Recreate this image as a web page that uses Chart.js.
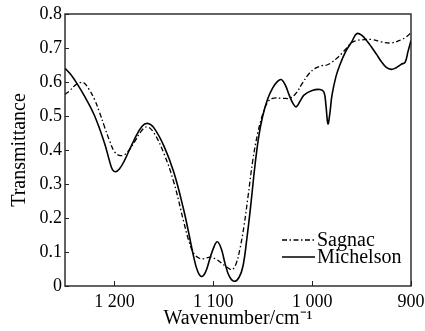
<!DOCTYPE html>
<html>
<head>
<meta charset="utf-8">
<script src="https://cdn.jsdelivr.net/npm/chart.js@4"></script>
<style>
html,body{margin:0;padding:0;background:#fff;}
#wrap{width:425px;height:331px;}
</style>
</head>
<body>
<div id="wrap"><canvas id="c" width="425" height="331"></canvas></div>
<script>
// Data
const michelsonX = [1250,1245,1240,1230,1220,1210,1205,1202,1199,1195,1190,1180,1172,1166,1160,1150,1140,1130,1125,1120,1116,1112,1108,1104,1100,1096,1092,1088,1084,1079,1074,1070,1066,1062,1058,1054,1050,1045,1040,1035,1031,1027,1023,1019,1016,1012,1008,1000,992,988,986,984,982,980,976,972,966,960,955,950,945,940,935,930,925,920,915,910,906,903,900];
const michelsonY = [0.640,0.625,0.605,0.557,0.500,0.420,0.368,0.342,0.336,0.344,0.368,0.430,0.470,0.478,0.465,0.412,0.335,0.225,0.158,0.088,0.045,0.028,0.040,0.075,0.110,0.130,0.110,0.065,0.030,0.014,0.025,0.058,0.140,0.240,0.350,0.440,0.500,0.550,0.582,0.602,0.607,0.590,0.560,0.535,0.527,0.545,0.562,0.575,0.578,0.570,0.530,0.477,0.510,0.560,0.615,0.650,0.690,0.718,0.742,0.738,0.722,0.703,0.682,0.660,0.643,0.637,0.642,0.652,0.658,0.690,0.722];
const sagnacX = [1250,1245,1240,1235,1231,1226,1220,1215,1210,1205,1200,1195,1190,1185,1180,1173,1167,1160,1150,1140,1130,1125,1120,1115,1110,1103,1098,1092,1086,1081,1077,1073,1069,1065,1060,1055,1050,1045,1040,1030,1022,1016,1010,1003,997,990,985,980,975,970,965,960,955,950,940,930,920,910,905,900];
const sagnacY = [0.563,0.575,0.590,0.598,0.598,0.580,0.548,0.510,0.468,0.428,0.395,0.384,0.386,0.400,0.422,0.455,0.468,0.450,0.390,0.306,0.190,0.135,0.097,0.083,0.080,0.085,0.080,0.068,0.055,0.048,0.065,0.110,0.175,0.260,0.370,0.450,0.505,0.540,0.552,0.552,0.553,0.568,0.596,0.625,0.640,0.648,0.650,0.658,0.670,0.684,0.700,0.716,0.722,0.724,0.725,0.718,0.715,0.724,0.732,0.745];
const xTickValues = [1200,1100,1000,900];
const xTickLabels = ['1 200','1 100','1 000','900'];
const yTickValues = [0,0.1,0.2,0.3,0.4,0.5,0.6,0.7,0.8];
const yTickLabels = ['0','0.1','0.2','0.3','0.4','0.5','0.6','0.7','0.8'];
const seriesNames = ['Sagnac','Michelson'];

const FONT = "'Liberation Serif', 'Times New Roman', serif";
const sagnacDash = [5,2.5,1.5,2.5];

const frameAndLegend = {
  id: 'frameAndLegend',
  afterDraw(chart) {
    const ctx = chart.ctx, a = chart.chartArea;
    const xs = chart.scales.x, ys = chart.scales.y;
    ctx.save();
    ctx.strokeStyle = '#222';
    ctx.lineWidth = 1.4;
    ctx.strokeRect(a.left, a.top, a.right - a.left, a.bottom - a.top);
    ctx.lineWidth = 1;
    ctx.beginPath();
    yTickValues.forEach(v => {
      const y = Math.round(ys.getPixelForValue(v)) + 0.5;
      ctx.moveTo(a.left, y); ctx.lineTo(a.left + 4, y);
    });
    xTickValues.forEach(v => {
      const x = Math.round(xs.getPixelForValue(v)) + 0.5;
      ctx.moveTo(x, a.bottom); ctx.lineTo(x, a.bottom - 5);
    });
    ctx.stroke();
    // legend
    const lx0 = a.right - 129, lx1 = a.right - 96, tx = a.right - 94;
    const rows = [a.bottom - 46, a.bottom - 29];
    ctx.font = "20px " + FONT;
    ctx.fillStyle = '#000';
    ctx.strokeStyle = '#000';
    ctx.textBaseline = 'middle';
    ctx.textAlign = 'left';
    rows.forEach((y, i) => {
      ctx.beginPath();
      ctx.lineWidth = i === 0 ? 1.3 : 1.6;
      ctx.setLineDash(i === 0 ? sagnacDash : []);
      ctx.moveTo(lx0, y); ctx.lineTo(lx1, y);
      ctx.stroke();
      ctx.setLineDash([]);
      ctx.fillText(seriesNames[i], tx, y + 1);
    });
    ctx.restore();
  }
};

new Chart(document.getElementById('c'), {
  type: 'line',
  data: {
    datasets: [
      {
        label: seriesNames[0],
        data: sagnacX.map((x, i) => ({x: x, y: sagnacY[i]})),
        borderColor: '#000', borderWidth: 1.3, borderDash: sagnacDash,
        pointRadius: 0, fill: false, tension: 0.4
      },
      {
        label: seriesNames[1],
        data: michelsonX.map((x, i) => ({x: x, y: michelsonY[i]})),
        borderColor: '#000', borderWidth: 1.6,
        pointRadius: 0, fill: false, tension: 0.4
      }
    ]
  },
  options: {
    responsive: false,
    animation: false,
    events: [],
    layout: { padding: { left: 0, right: 14, top: 14, bottom: 0 } },
    plugins: { legend: { display: false }, tooltip: { enabled: false } },
    scales: {
      x: {
        type: 'linear', reverse: true, min: 900, max: 1250,
        grid: { display: false, drawTicks: false },
        border: { display: false },
        afterBuildTicks(s) { s.ticks = xTickValues.map(v => ({value: v})); },
        afterFit(s) { s.height = 45; s.paddingLeft = 0; s.paddingRight = 0; },
        ticks: {
          color: '#000', padding: 5, maxRotation: 0, autoSkip: false,
          font: { family: FONT, size: 18 },
          callback(v) { const i = xTickValues.indexOf(v); return i >= 0 ? xTickLabels[i] : ''; }
        },
        title: {
          display: true, text: 'Wavenumber/cm⁻¹', color: '#000',
          font: { family: FONT, size: 20, lineHeight: 1.2 }, padding: { top: 0, bottom: 0 }
        }
      },
      y: {
        min: 0, max: 0.8,
        grid: { display: false, drawTicks: false },
        border: { display: false },
        afterBuildTicks(s) { s.ticks = yTickValues.map(v => ({value: v})); },
        afterFit(s) { s.width = 65; s.paddingTop = 0; s.paddingBottom = 0; },
        ticks: {
          color: '#000', padding: 3,
          font: { family: FONT, size: 18 },
          callback(v) { const i = yTickValues.findIndex(t => Math.abs(t - v) < 1e-9); return i >= 0 ? yTickLabels[i] : ''; }
        },
        title: {
          display: true, text: 'Transmittance', color: '#000',
          font: { family: FONT, size: 20, lineHeight: 1.2 }, padding: { top: 8, bottom: 0 }
        }
      }
    }
  },
  plugins: [frameAndLegend]
});
</script>
</body>
</html>
